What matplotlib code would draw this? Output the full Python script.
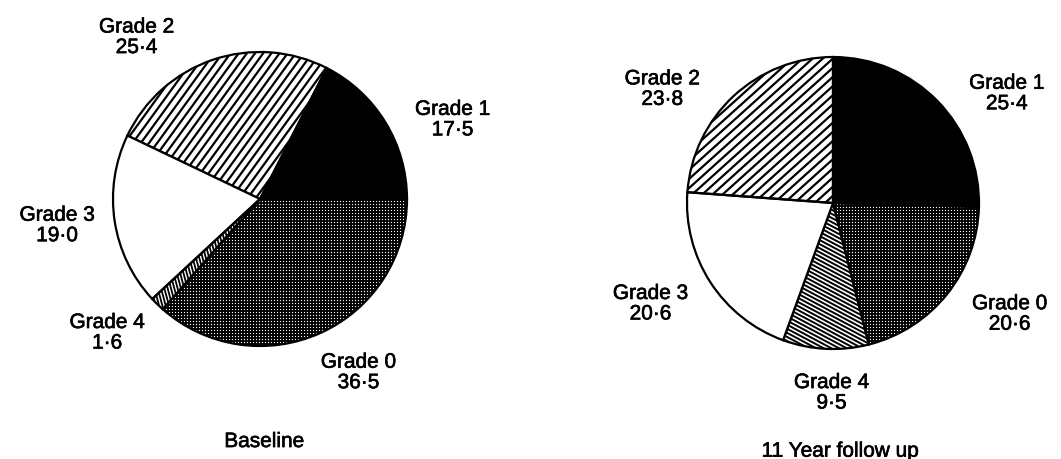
"""
Grade distribution pies: baseline vs 11 year follow up.
"""

import numpy as np
import matplotlib
matplotlib.use("Agg")
import matplotlib.pyplot as plt
import matplotlib.patheffects as pe
from matplotlib.collections import LineCollection

# --- data ---
BASE_GRADES = ["Grade 1", "Grade 2", "Grade 3", "Grade 4", "Grade 0"]
BASE_VALUES = [17.5, 25.4, 19.0, 1.6, 36.5]
BASE_TEXT   = ["17·5", "25·4", "19·0", "1·6", "36·5"]

FOLLOW_GRADES = ["Grade 1", "Grade 0", "Grade 4", "Grade 3", "Grade 2"]
FOLLOW_VALUES = [25.4, 20.6, 9.5, 20.6, 23.8]
FOLLOW_TEXT   = ["25·4", "20·6", "9·5", "20·6", "23·8"]

# --- layout (pixels of the 1061x459 canvas) ---
W, H = 1061, 459
BASE_CENTER, BASE_R = (260, 199), 147
FOLLOW_CENTER, FOLLOW_R = (833, 203), 146

# label spots in pie units (radius = 1)
BASE_LABEL_POS = {
    "Grade 1": (1.31, 0.54), "Grade 2": (-0.84, 1.10), "Grade 3": (-1.38, -0.18),
    "Grade 4": (-1.04, -0.91), "Grade 0": (0.67, -1.18),
}
FOLLOW_LABEL_POS = {
    "Grade 1": (1.19, 0.75), "Grade 2": (-1.17, 0.78), "Grade 3": (-1.25, -0.69),
    "Grade 4": (-0.01, -1.30), "Grade 0": (1.21, -0.76),
}

# hatch styles: list of (angle in deg, spacing in px, line width in pt)
DOTS = [(0, 3.0, 1.35), (90, 3.0, 1.35)]
BASE_FILL = {
    "Grade 1": "black", "Grade 2": [(54, 6.6, 1.6)], "Grade 3": None,
    "Grade 4": [(105, 3.2, 1.3)], "Grade 0": DOTS,
}
FOLLOW_FILL = {
    "Grade 1": "black", "Grade 2": [(42, 6.8, 1.6)], "Grade 3": None,
    "Grade 4": [(-28, 3.6, 1.4)], "Grade 0": DOTS,
}

FONT = "Liberation Sans"
FS = 15
plt.rcParams["font.family"] = FONT
TEXT_FX = [pe.withStroke(linewidth=0.45, foreground="black")]


def hatch_segments(angle, spacing):
    # parallel lines across the unit square
    t = np.deg2rad(angle)
    d = np.array([np.cos(t), np.sin(t)])
    n = np.array([-d[1], d[0]])
    offs = np.arange(-1.5, 1.5 + spacing, spacing)
    return [[o * n - 1.6 * d, o * n + 1.6 * d] for o in offs]


def draw_pie(center, r, grades, values, texts, fills, label_pos, title, counter, start):
    cx, cy = center
    ax = fig.add_axes([(cx - r) / W, (H - cy - r) / H, 2 * r / W, 2 * r / H])
    wedges, _ = ax.pie(values, startangle=start, counterclock=counter, radius=1,
                       colors=["white"] * len(values),
                       wedgeprops=dict(edgecolor="black", linewidth=1.6))
    for w, g in zip(wedges, grades):
        f = fills[g]
        w.set_zorder(3)
        if f == "black":
            w.set_facecolor("black")
        elif f:
            w.set_facecolor("none")
            for angle, sp_px, lw in f:
                lc = LineCollection(hatch_segments(angle, sp_px / r), colors="black",
                                    linewidths=lw, zorder=2)
                lc.set_clip_path(w)
                ax.add_collection(lc)
    for g, t in zip(grades, texts):
        x, y = label_pos[g]
        ax.text(x, y, f"{g}\n{t}", ha="center", va="center", fontsize=FS,
                linespacing=1.1, clip_on=False, path_effects=TEXT_FX)
    ax.text(title[1], title[2], title[0], ha="center", va="center", fontsize=FS,
            clip_on=False, path_effects=TEXT_FX)
    ax.set_xlim(-1, 1)
    ax.set_ylim(-1, 1)
    ax.axis("off")
    return ax


fig = plt.figure(figsize=(W / 100, H / 100), dpi=100)
fig.patch.set_facecolor("white")

draw_pie(BASE_CENTER, BASE_R, BASE_GRADES, BASE_VALUES, BASE_TEXT, BASE_FILL,
         BASE_LABEL_POS, ("Baseline", 0.03, -1.65), counter=True, start=0)
draw_pie(FOLLOW_CENTER, FOLLOW_R, FOLLOW_GRADES, FOLLOW_VALUES, FOLLOW_TEXT, FOLLOW_FILL,
         FOLLOW_LABEL_POS, ("11 Year follow up", 0.05, -1.70), counter=False, start=90)

fig.savefig("out.png", dpi=100, facecolor="white")
